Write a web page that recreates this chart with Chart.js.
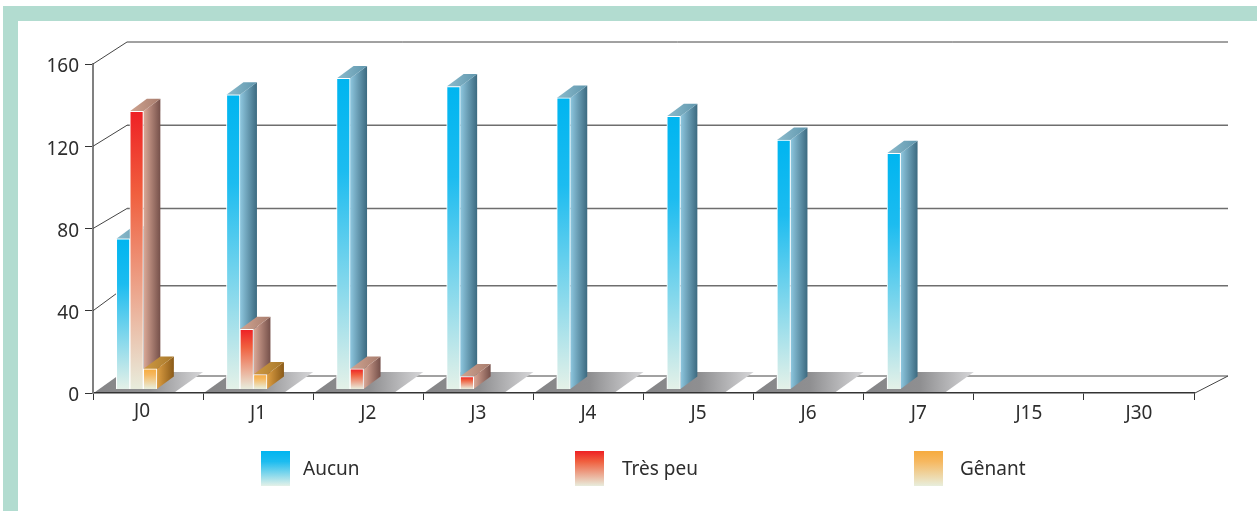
<!DOCTYPE html>
<html><head><meta charset="utf-8">
<style>
html,body{margin:0;padding:0;background:#fff;width:1257px;height:511px;overflow:hidden}
#frameTop{position:absolute;left:3px;top:6px;width:1254px;height:15px;background:#b2dcd0}
#frameLeft{position:absolute;left:3px;top:6px;width:15px;height:505px;background:#b2dcd0}
#wrap{position:absolute;left:0;top:0;width:1257px;height:511px}
</style>
<script src="https://cdn.jsdelivr.net/npm/chart.js@4"></script>
</head><body>
<div id="frameTop"></div><div id="frameLeft"></div>
<div id="wrap"><canvas id="c" width="1257" height="511"></canvas></div>
<script>
const categories=['J0','J1','J2','J3','J4','J5','J6','J7','J15','J30'];
const aucun=[75,145,153,149,143.5,134.6,123,116.6,null,null];
const tresPeu=[137,31,11.7,8,null,null,null,null,null,null];
const genant=[11.7,9,null,null,null,null,null,null,null,null];
const yTicks=[0,40,80,120,160];
const wallRise=[17,25,20,21,22];
const FONT='"Noto Sans"';
const TXT='#2d2d2d';
const legendX=[261,575,914];
const styles=[
 {front:['#00b5f0','#1cbcf0','#e4f1e8'],side:['#8fc8e0','#3c6a80'],top:['#8dbccd','#5f96ad']},
 {front:['#ee2024','#f0603f','#e8ecdc'],side:['#dcaa98','#75504a'],top:['#cfa491','#a87c6d']},
 {front:['#f6ab3f','#f6b860','#e8eedc'],side:['#dfa044','#8a5a18'],top:['#cf9a45','#a8782a']}
];
function frontGrad(chart,d,y0,y1){
 const g=chart.ctx.createLinearGradient(0,y0,0,y1);const s=styles[d].front;
 g.addColorStop(0,s[0]);g.addColorStop(.3,s[1]);g.addColorStop(1,s[2]);return g;
}
function bg(d){return c=>{
 const r=c.raw;
 if(!r||r.y==null||!c.chart.scales.y)return styles[d].front[0];
 const ys=c.chart.scales.y;
 const y0=ys.getPixelForValue(r.y),y1=ys.getPixelForValue(2);
 if(!isFinite(y0)||!isFinite(y1))return styles[d].front[0];
 return frontGrad(c.chart,d,y0,y1);
};}
function series(vals){return vals.map((v,i)=>({x:i-0.104,y:v}));}
const back3d={
 id:'back3d',
 beforeDatasetsDraw(chart){
  const {ctx,scales:{y,xBars}}=chart;const a=chart.chartArea;
  ctx.save();
  yTicks.forEach((t,k)=>{
   const py=y.getPixelForValue(t);const dy=wallRise[k];
   ctx.strokeStyle='#444';ctx.lineWidth=1;
   ctx.beginPath();
   if(t===0){ctx.moveTo(a.right,py+.5);ctx.lineTo(a.right+34,py-dy);ctx.stroke();
    ctx.beginPath();ctx.moveTo(a.right+34,py-dy);ctx.lineTo(a.left+34,py-dy);}
   else{ctx.moveTo(a.left,py);ctx.lineTo(a.left+34,py-dy);ctx.stroke();
    ctx.beginPath();ctx.moveTo(a.left+34,py-dy);ctx.lineTo(a.right+34,py-dy);}
   ctx.strokeStyle=t===160||t===0?'#444':'#6e6e6e';ctx.lineWidth=t===160||t===0?1:1.5;
   ctx.stroke();
  });
  const base=y.getPixelForValue(0)-1;
  aucun.forEach((v,i)=>{
   if(v==null)return;
   const c=xBars.getPixelForValue(i-0.104);
   const g=ctx.createLinearGradient(c-40,0,c+66,0);
   g.addColorStop(0,'#858587');g.addColorStop(.5,'#8f8f91');g.addColorStop(1,'#d6d6d8');
   ctx.fillStyle=g;ctx.beginPath();
   ctx.moveTo(c-41.5,base);ctx.lineTo(c+38.5,base);ctx.lineTo(c+66.5,base-20);ctx.lineTo(c-13.5,base-20);
   ctx.closePath();ctx.fill();
  });
  const DX=17,DY=12.5;
  chart.data.datasets.forEach((ds,d)=>{
   chart.getDatasetMeta(d).data.forEach((el,i)=>{
    if(ds.data[i].y==null)return;
    const r=el.x+el.width/2,l=el.x-el.width/2,t=el.y,b=el.base;
    const sg=ctx.createLinearGradient(r,0,r+DX,0);
    sg.addColorStop(0,styles[d].side[0]);sg.addColorStop(1,styles[d].side[1]);
    ctx.fillStyle=sg;ctx.beginPath();
    ctx.moveTo(r,t);ctx.lineTo(r+DX,t-DY);ctx.lineTo(r+DX,b-DY);ctx.lineTo(r,b);ctx.closePath();ctx.fill();
    const tg=ctx.createLinearGradient(l,0,r+DX,0);
    tg.addColorStop(0,styles[d].top[0]);tg.addColorStop(1,styles[d].top[1]);
    ctx.fillStyle=tg;ctx.beginPath();
    ctx.moveTo(l,t);ctx.lineTo(r,t);ctx.lineTo(r+DX,t-DY);ctx.lineTo(l+DX,t-DY);ctx.closePath();ctx.fill();
   });
  });
  ctx.restore();
 }
};
const legend3d={
 id:'legend3d',
 afterDraw(chart){
  const {ctx}=chart;ctx.save();
  chart.data.datasets.forEach((ds,d)=>{
   const x=legendX[d];
   ctx.fillStyle=frontGrad(chart,d,451,486);
   ctx.fillRect(x,451,29,35);
   ctx.fillStyle=TXT;ctx.font='19px '+FONT;ctx.textBaseline='middle';ctx.textAlign='left';
   ctx.fillText(ds.label,x+(d===1?47:d===2?46:42),470);
  });
  const xs=chart.scales.x;
  ctx.fillStyle=TXT;ctx.font='19px '+FONT;ctx.textAlign='center';ctx.textBaseline='top';
  ctx.fillText(categories[0],xs.getPixelForTick(0)-6,xs.top+9);
  ctx.restore();
 }
};
new Chart(document.getElementById('c'),{
 type:'bar',
 data:{labels:categories,datasets:[
  {label:'Aucun',data:series(aucun),backgroundColor:bg(0)},
  {label:'Très peu',data:series(tresPeu),backgroundColor:bg(1)},
  {label:'Gênant',data:series(genant),backgroundColor:bg(2)}
 ].map(d=>Object.assign(d,{xAxisID:'xBars',yAxisID:'y',base:2,barThickness:13.5,borderColor:'#fff',borderWidth:1}))},
 plugins:[back3d,legend3d],
 options:{
  responsive:false,animation:false,
  layout:{padding:{top:64,right:63,bottom:60,left:0}},
  plugins:{legend:{display:false},tooltip:{enabled:false}},
  scales:{
   xBars:{type:'linear',min:-0.5,max:9.5,display:false,offset:false},
   x:{type:'category',position:'bottom',offset:true,
    grid:{drawOnChartArea:false,offset:true,color:'#333',tickLength:7,tickWidth:1},
    border:{color:'#333',width:1.5},
    ticks:{font:{family:FONT,size:19},color:c=>c.index===0?'rgba(0,0,0,0)':TXT,padding:2,autoSkip:false,maxRotation:0},
    afterFit(s){s.height=58;}},
   y:{type:'linear',min:0,max:160,position:'left',
    afterBuildTicks(s){s.ticks=yTicks.map(v=>({value:v}));},
    grid:{drawOnChartArea:false,color:'#333',tickLength:8,tickWidth:1},
    border:{color:'#808080',width:2},
    ticks:{font:{family:FONT,size:19},color:TXT,padding:6,labelOffset:3},
    afterFit(s){s.width=93;}}
  }
 }
});
</script>
</body></html>
